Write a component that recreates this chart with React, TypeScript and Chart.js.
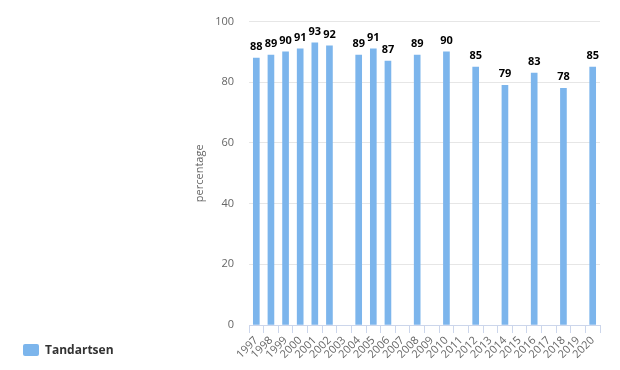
import React, { useEffect, useRef } from "react";
import { Chart, registerables } from "chart.js";

Chart.register(...registerables);

const years: string[] = [
  "1997", "1998", "1999", "2000", "2001", "2002", "2003", "2004", "2005", "2006", "2007", "2008",
  "2009", "2010", "2011", "2012", "2013", "2014", "2015", "2016", "2017", "2018", "2019", "2020",
];
const tandartsen: (number | null)[] = [
  88, 89, 90, 91, 93, 92, null, 89, 91, 87, null, 89,
  null, 90, null, 85, null, 79, null, 83, null, 78, null, 85,
];
const seriesName = "Tandartsen";
const yTicks: number[] = [0, 20, 40, 60, 80, 100];
const yTitle = "percentage";

const FONT = "'Open Sans', 'DejaVu Sans', sans-serif";
const BAR_COLOR = "#7cb5ec";

const dataLabelPlugin = {
  id: "dataLabels",
  afterDatasetsDraw(chart: any) {
    const ctx = chart.ctx;
    chart.data.datasets.forEach((ds: any, di: number) => {
      const meta = chart.getDatasetMeta(di);
      meta.data.forEach((el: any, i: number) => {
        const v = ds.data[i];
        if (v === null || v === undefined) return;
        ctx.save();
        ctx.font = `bold 11px ${FONT}`;
        ctx.textAlign = "center";
        ctx.textBaseline = "middle";
        ctx.lineJoin = "round";
        ctx.lineWidth = 2;
        ctx.strokeStyle = "#ffffff";
        const y = el.y - 11;
        ctx.strokeText(String(v), el.x, y);
        ctx.fillStyle = "#000000";
        ctx.fillText(String(v), el.x, y);
        ctx.restore();
      });
    });
  },
};

const legendPlugin = {
  id: "customLegend",
  afterDraw(chart: any) {
    const ctx = chart.ctx;
    const ds = chart.data.datasets[0];
    ctx.save();
    ctx.fillStyle = ds.backgroundColor;
    ctx.beginPath();
    if ((ctx as any).roundRect) {
      (ctx as any).roundRect(23, 344, 16, 12, 2);
    } else {
      ctx.rect(23, 344, 16, 12);
    }
    ctx.fill();
    ctx.font = `bold 12px ${FONT}`;
    ctx.fillStyle = "#333333";
    ctx.textAlign = "left";
    ctx.textBaseline = "middle";
    ctx.fillText(ds.label, 45, 351);
    ctx.restore();
  },
};

export default function App() {
  const ref = useRef<HTMLCanvasElement | null>(null);
  useEffect(() => {
    if (!ref.current) return;
    const chart = new Chart(ref.current, {
      type: "bar",
      data: {
        labels: years,
        datasets: [
          {
            label: seriesName,
            data: tandartsen,
            backgroundColor: BAR_COLOR,
            borderWidth: 0,
            barThickness: 6,
          },
        ],
      },
      plugins: [dataLabelPlugin, legendPlugin],
      options: {
        responsive: false,
        animation: false,
        layout: { padding: { left: 189, right: 20, top: 20, bottom: 0 } },
        plugins: {
          legend: { display: false },
          tooltip: { enabled: false },
          title: { display: false },
        },
        scales: {
          x: {
            offset: true,
            grid: {
              offset: true,
              drawOnChartArea: false,
              drawTicks: true,
              tickLength: 8,
              color: "#ccd6eb",
            },
            border: { display: true, color: "#ccd6eb" },
            ticks: {
              autoSkip: false,
              minRotation: 45,
              maxRotation: 45,
              padding: 1,
              color: "#666666",
              font: { family: FONT, size: 11 },
            },
            afterFit(scale: any) {
              scale.height = 45;
            },
          },
          y: {
            min: 0,
            max: 100,
            afterBuildTicks(scale: any) {
              scale.ticks = yTicks.map((v) => ({ value: v }));
            },
            grid: { color: "#e6e6e6", drawTicks: false },
            border: { display: false },
            ticks: {
              padding: 15,
              color: "#666666",
              font: { family: FONT, size: 11 },
            },
            title: {
              display: true,
              text: yTitle,
              color: "#666666",
              font: { family: FONT, size: 11 },
              padding: { top: 4, bottom: 4 },
            },
            afterFit(scale: any) {
              scale.width = 60;
            },
          },
        },
      },
    });
    return () => chart.destroy();
  }, []);
  return (
    <div style={{ position: "absolute", left: 0, top: 0, width: 620, height: 370 }}>
      <canvas ref={ref} width={620} height={370} />
    </div>
  );
}
